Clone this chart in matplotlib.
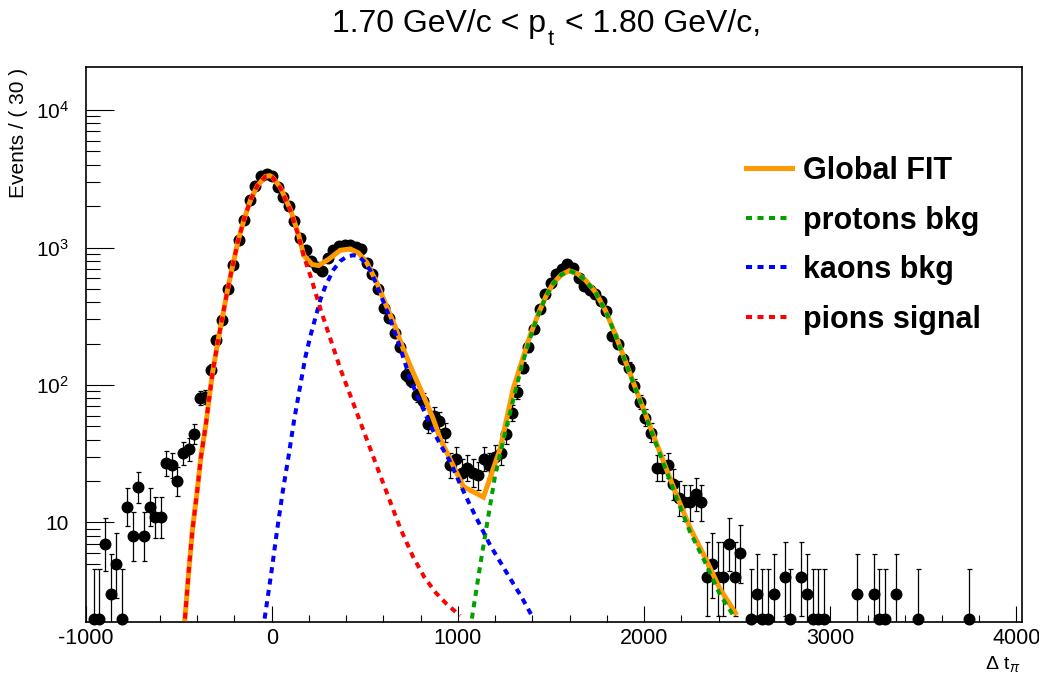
import numpy as np
import matplotlib
matplotlib.use('Agg')
import matplotlib.pyplot as plt
from matplotlib.lines import Line2D
from matplotlib.ticker import FixedLocator, NullFormatter

plt.rcParams['font.family'] = 'Liberation Sans'
plt.rcParams['mathtext.fontset'] = 'custom'
plt.rcParams['mathtext.rm'] = 'Liberation Sans'
plt.rcParams['mathtext.it'] = 'Liberation Sans:italic'
plt.rcParams['mathtext.bf'] = 'Liberation Sans:bold'

# binning of the histogram (Events / ( 30 ))
x_min, x_max = -1000, 4027
n_bins = 168

# counts per bin (0 = nothing drawn)
counts = [
    0, 2, 2, 7, 3, 5, 2, 13, 8, 18,
    8, 13, 11, 11, 27, 26, 20, 32, 34, 44,
    80, 82, 129, 212, 297, 497, 745, 1130, 1578, 2220,
    2780, 3290, 3440, 3300, 2750, 2350, 1990, 1550, 1180, 960,
    796, 720, 673, 841, 960, 1020, 1050, 1050, 1010, 968,
    775, 637, 496, 366, 305, 238, 188, 118, 107, 84,
    77, 52, 60, 55, 45, 26, 29, 23, 25, 23,
    22, 29, 26, 30, 32, 44, 63, 89, 134, 188,
    255, 356, 457, 555, 637, 693, 753, 713, 603, 525,
    490, 457, 408, 344, 228, 198, 154, 134, 99, 75,
    58, 45, 25, 25, 26, 19, 15, 14, 14, 16,
    14, 4, 5, 4, 4, 7, 4, 6, 0, 2,
    3, 2, 2, 3, 0, 4, 2, 0, 4, 3,
    2, 2, 2, 0, 0, 0, 0, 0, 3, 0,
    0, 3, 2, 2, 0, 3, 0, 0, 0, 2,
    0, 0, 0, 0, 0, 0, 0, 0, 2, 0,
    0, 0, 0, 0, 0, 0, 0, 0,
]

# fit curves
pion_t = [-466, -445, -425, -400, -380, -354, -336, -318, -291, -264, -238, -211,
          -181, -149, -113, -77, -33, -10, 3, 47, 101, 145, 172, 210, 262, 369,
          476, 583, 691, 760, 820, 880, 940, 1012]
pion_v = [2, 4.5, 9, 17, 30, 51, 80, 122, 200, 315, 485, 725,
          1110, 1596, 2230, 2810, 3290, 3330, 3250, 2710, 1850, 1200, 870, 610, 356, 131,
          53.7, 22, 9.05, 5.6, 4.0, 3.1, 2.55, 2.1]

kaon_t = [-38, 0, 30, 60, 90, 120, 154, 181, 208, 262, 290, 332, 370, 404, 440, 470,
          500, 530, 564, 601, 637, 691, 744, 798, 851, 905, 959, 1012, 1066, 1120,
          1173, 1226, 1280, 1340, 1397]
kaon_v = [2, 4.5, 9, 17, 30, 55, 100, 160, 228, 420, 530, 690, 800, 860, 880, 860,
          780, 680, 535, 400, 301, 185, 110, 75, 51, 37, 27.6, 19, 13.3, 9.5,
          6.85, 5.2, 3.93, 2.9, 2.1]

proton_t = [1075, 1120, 1155, 1200, 1245, 1298, 1343, 1405, 1438, 1473, 1509, 1553,
            1598, 1642, 1687, 1740, 1794, 1848, 1901, 1955, 2008, 2062, 2115, 2169,
            2246, 2335, 2407, 2490]
proton_v = [2.0, 4.9, 9.5, 22, 40, 79, 138, 260, 340, 440, 540, 630,
            677, 645, 575, 470, 344, 228, 146, 93, 60, 38, 24.6, 15.8,
            8.6, 4.9, 3.0, 2.0]

total_t = [-466, -445, -425, -400, -380, -354, -336, -318, -291, -264, -238, -211,
           -181, -149, -113, -77, -33, -10, 3, 47, 101, 145, 172, 217, 252, 305,
           368, 422, 466, 511, 564, 609, 662, 707, 760, 814, 867, 905, 1030, 1137,
           1227, 1298, 1388, 1438, 1473, 1509, 1553, 1598, 1642, 1687, 1740, 1794,
           1848, 1901, 1955, 2008, 2062, 2115, 2169, 2246, 2335, 2407, 2490]
total_v = [2, 4.5, 9, 17, 30, 51, 80, 122, 200, 315, 485, 725,
           1110, 1596, 2230, 2810, 3290, 3330, 3260, 2730, 1880, 1230, 880, 753, 740, 820,
           955, 976, 913, 777, 556, 397, 268, 182, 123, 84, 57, 40.6, 18.2, 15.3,
           34.3, 95, 230, 345, 442, 541, 631, 678, 646, 576, 471, 345,
           229, 147, 94, 61, 39, 25.5, 16.5, 9.2, 5.3, 3.3, 2.2]

x_major = [-1000, 0, 1000, 2000, 3000, 4000]
y_major = [10, 100, 1000, 10000]
y_major_labels = ['10', r'$10^{2}$', r'$10^{3}$', r'$10^{4}$']

legend_labels = ['Global FIT', 'protons bkg', 'kaons bkg', 'pions signal']
c_total = '#ff9900'
c_proton = '#00a000'
c_kaon = '#0000ff'
c_pion = '#ff0000'


def poisson_interval(n):
    # approximate 68% Garwood interval, as RooFit draws it
    n = np.asarray(n, dtype=float)
    lo = n * (1 - 1 / (9 * n) - 1 / (3 * np.sqrt(n))) ** 3
    hi = (n + 1) * (1 - 1 / (9 * (n + 1)) + 1 / (3 * np.sqrt(n + 1))) ** 3
    return lo, hi


bin_width = (x_max - x_min) / n_bins
bin_centers = x_min + bin_width * (np.arange(n_bins) + 0.5)
counts = np.array(counts, dtype=float)
sel = counts > 0
xd = bin_centers[sel]
yd = counts[sel]
lo, hi = poisson_interval(yd)

W, H = 1039, 674
fig = plt.figure(figsize=(W / 100, H / 100), dpi=100)
ax = fig.add_axes([85.5 / W, 1 - 621.5 / H, (1021.5 - 85.5) / W, (621.5 - 67) / H])
ax.set_yscale('log')

ax.errorbar(xd, yd, yerr=[yd - lo, hi - yd], fmt='none', ecolor='black',
            elinewidth=0.9, capsize=1.8, capthick=0.9, zorder=2)
ax.plot(xd, yd, 'o', color='black', markersize=7.6, zorder=2.5, clip_on=False)

dash = (1.5, 1.35)
ax.plot(total_t, total_v, '-', color=c_total, lw=3.6, zorder=3, solid_joinstyle='miter')
ax.plot(proton_t, proton_v, color=c_proton, lw=2.9, dashes=dash, zorder=4)
ax.plot(kaon_t, kaon_v, color=c_kaon, lw=2.9, dashes=dash, zorder=4)
ax.plot(pion_t, pion_v, color=c_pion, lw=2.9, dashes=dash, zorder=4)

ax.set_xlim(x_min, x_max)
ax.set_ylim(1.905, 20560)

ax.set_xticks(x_major)
ax.set_xticklabels([str(v) for v in x_major])
ax.xaxis.set_minor_locator(FixedLocator([v for v in range(-800, 4000, 200) if v % 1000 != 0]))
ax.yaxis.set_major_locator(FixedLocator(y_major))
ax.set_yticklabels(y_major_labels)
y_minor = [5, 6, 7, 8, 9] + [m * d for d in (10, 100, 1000) for m in range(2, 10)]
ax.yaxis.set_minor_locator(FixedLocator(y_minor))
ax.yaxis.set_minor_formatter(NullFormatter())

ax.tick_params(axis='x', which='major', direction='in', length=11.5, width=0.8,
               pad=5, labelsize=15.5, top=False)
ax.tick_params(axis='x', which='minor', direction='in', length=5, width=0.8, top=False)
ax.tick_params(axis='y', which='major', direction='in', length=20, width=0.8,
               pad=12, labelsize=15, right=False)
ax.tick_params(axis='y', which='minor', direction='in', length=10, width=0.8, right=False)
for s in ax.spines.values():
    s.set_linewidth(1.2)

handles = [
    Line2D([], [], color=c_total, lw=3.6),
    Line2D([], [], color=c_proton, lw=2.9, dashes=dash),
    Line2D([], [], color=c_kaon, lw=2.9, dashes=dash),
    Line2D([], [], color=c_pion, lw=2.9, dashes=dash),
]
ax.legend(handles, legend_labels, loc='upper left', bbox_to_anchor=(746 / W, 1 - 156 / H),
          bbox_transform=fig.transFigure, frameon=False, borderpad=0, borderaxespad=0,
          handlelength=1.5, handletextpad=0.37, labelspacing=0.64,
          prop={'family': 'Liberation Sans', 'weight': 'bold', 'size': 22})

# title in three pieces so the subscript sits low like the ROOT TLatex one
renderer = fig.canvas.get_renderer()
base = 1 - 31.7 / H
t1 = fig.text(332 / W, base, '1.70 GeV/c < p', ha='left', va='baseline', fontsize=23)
x1 = t1.get_window_extent(renderer).x1
t2 = fig.text((x1 + 2) / W, base - 13.5 / H, 't', ha='left', va='baseline', fontsize=16)
x2 = t2.get_window_extent(renderer).x1
fig.text((x2 + 2) / W, base, ' < 1.80 GeV/c,', ha='left', va='baseline', fontsize=23)

fig.text(19 / W, 1 - 68 / H, 'Events / ( 30 )', rotation=90, ha='center', va='top',
         fontsize=15)
fig.text(1020 / W, 1 - 669 / H, r'$\Delta$ t$_{\pi}$', ha='right', va='baseline',
         fontsize=14)

fig.savefig('out.png', dpi=100)
